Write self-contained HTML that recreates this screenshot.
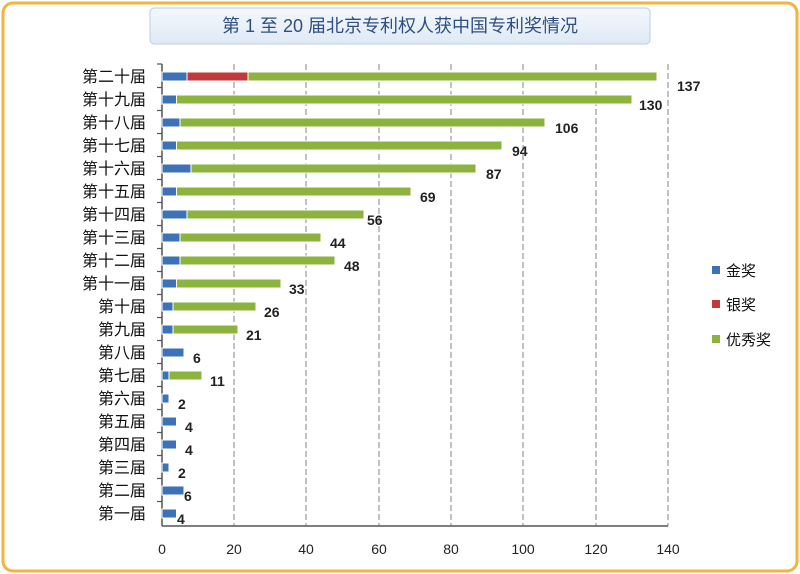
<!DOCTYPE html>
<html><head><meta charset="utf-8"><style>
body{margin:0;width:800px;height:574px;overflow:hidden;background:#fff;}
svg{display:block;font-family:"Liberation Sans","Noto Sans CJK SC",sans-serif;}
</style></head><body>
<svg width="800" height="574" viewBox="0 0 800 574">
<defs><linearGradient id="tb" x1="0" y1="0" x2="0" y2="1"><stop offset="0" stop-color="#f4f8fd"/><stop offset="1" stop-color="#dfe9f5"/></linearGradient></defs>
<rect x="3" y="3" width="794" height="568" rx="10" fill="#fff" stroke="#f2b441" stroke-width="3"/>
<rect x="150" y="8" width="500" height="36" rx="4" fill="url(#tb)" stroke="#b9cde5"/>
<text x="400" y="32" text-anchor="middle" font-size="18" fill="#2f4f7f">第 1 至 20 届北京专利权人获中国专利奖情况</text>
<g stroke="#999" stroke-width="1.2" stroke-dasharray="6,3">
<line x1="234" y1="64" x2="234" y2="526"/><line x1="306" y1="64" x2="306" y2="526"/><line x1="379" y1="64" x2="379" y2="526"/><line x1="451" y1="64" x2="451" y2="526"/><line x1="523" y1="64" x2="523" y2="526"/><line x1="596" y1="64" x2="596" y2="526"/><line x1="668" y1="64" x2="668" y2="526"/>
</g>
<line x1="162" y1="64" x2="162" y2="526" stroke="#555" stroke-width="1.5"/>
<line x1="162" y1="526" x2="668" y2="526" stroke="#555" stroke-width="1.5"/>
<g stroke="#555" stroke-width="1.2">
<line x1="157" y1="64" x2="162" y2="64"/><line x1="157" y1="87.5" x2="162" y2="87.5"/><line x1="157" y1="110.5" x2="162" y2="110.5"/><line x1="157" y1="133.5" x2="162" y2="133.5"/><line x1="157" y1="156.5" x2="162" y2="156.5"/><line x1="157" y1="179.5" x2="162" y2="179.5"/><line x1="157" y1="202.5" x2="162" y2="202.5"/><line x1="157" y1="225.5" x2="162" y2="225.5"/><line x1="157" y1="248.5" x2="162" y2="248.5"/><line x1="157" y1="271.5" x2="162" y2="271.5"/><line x1="157" y1="294.5" x2="162" y2="294.5"/><line x1="157" y1="317.5" x2="162" y2="317.5"/><line x1="157" y1="340.5" x2="162" y2="340.5"/><line x1="157" y1="363.5" x2="162" y2="363.5"/><line x1="157" y1="386.5" x2="162" y2="386.5"/><line x1="157" y1="409.5" x2="162" y2="409.5"/><line x1="157" y1="432.5" x2="162" y2="432.5"/><line x1="157" y1="455.5" x2="162" y2="455.5"/><line x1="157" y1="478.5" x2="162" y2="478.5"/><line x1="157" y1="501.5" x2="162" y2="501.5"/>
</g>
<g font-size="14" fill="#222" text-anchor="middle">
<text x="162" y="554">0</text><text x="234" y="554">20</text><text x="306" y="554">40</text><text x="379" y="554">60</text><text x="451" y="554">80</text><text x="523" y="554">100</text><text x="596" y="554">120</text><text x="668" y="554">140</text>
</g>
<g font-size="16" fill="#111" text-anchor="end">
<text x="146" y="82">第二十届</text><text x="146" y="105">第十九届</text><text x="146" y="128">第十八届</text><text x="146" y="151">第十七届</text><text x="146" y="174">第十六届</text><text x="146" y="197">第十五届</text><text x="146" y="220">第十四届</text><text x="146" y="243">第十三届</text><text x="146" y="266">第十二届</text><text x="146" y="289">第十一届</text><text x="146" y="312">第十届</text><text x="146" y="335">第九届</text><text x="146" y="358">第八届</text><text x="146" y="381">第七届</text><text x="146" y="404">第六届</text><text x="146" y="427">第五届</text><text x="146" y="450">第四届</text><text x="146" y="473">第三届</text><text x="146" y="496">第二届</text><text x="146" y="519">第一届</text>
</g>
<g stroke="#fff" stroke-width="1">
<rect x="162" y="72" width="495" height="9" fill="#8db33f"/><rect x="162" y="72" width="86" height="9" fill="#c0393b"/><rect x="162" y="72" width="25" height="9" fill="#3e72b8"/>
<rect x="162" y="95" width="470" height="9" fill="#8db33f"/><rect x="162" y="95" width="14.5" height="9" fill="#3e72b8"/>
<rect x="162" y="118" width="383" height="9" fill="#8db33f"/><rect x="162" y="118" width="18" height="9" fill="#3e72b8"/>
<rect x="162" y="141" width="340" height="9" fill="#8db33f"/><rect x="162" y="141" width="14.5" height="9" fill="#3e72b8"/>
<rect x="162" y="164" width="314" height="9" fill="#8db33f"/><rect x="162" y="164" width="29" height="9" fill="#3e72b8"/>
<rect x="162" y="187" width="249" height="9" fill="#8db33f"/><rect x="162" y="187" width="14.5" height="9" fill="#3e72b8"/>
<rect x="162" y="210" width="202" height="9" fill="#8db33f"/><rect x="162" y="210" width="25" height="9" fill="#3e72b8"/>
<rect x="162" y="233" width="159" height="9" fill="#8db33f"/><rect x="162" y="233" width="18" height="9" fill="#3e72b8"/>
<rect x="162" y="256" width="173" height="9" fill="#8db33f"/><rect x="162" y="256" width="18" height="9" fill="#3e72b8"/>
<rect x="162" y="279" width="119" height="9" fill="#8db33f"/><rect x="162" y="279" width="14.5" height="9" fill="#3e72b8"/>
<rect x="162" y="302" width="94" height="9" fill="#8db33f"/><rect x="162" y="302" width="11" height="9" fill="#3e72b8"/>
<rect x="162" y="325" width="76" height="9" fill="#8db33f"/><rect x="162" y="325" width="11" height="9" fill="#3e72b8"/>
<rect x="162" y="348" width="22" height="9" fill="#3e72b8"/>
<rect x="162" y="371" width="40" height="9" fill="#8db33f"/><rect x="162" y="371" width="7" height="9" fill="#3e72b8"/>
<rect x="162" y="394" width="7" height="9" fill="#3e72b8"/>
<rect x="162" y="417" width="14.5" height="9" fill="#3e72b8"/>
<rect x="162" y="440" width="14.5" height="9" fill="#3e72b8"/>
<rect x="162" y="463" width="7" height="9" fill="#3e72b8"/>
<rect x="162" y="486" width="22" height="9" fill="#3e72b8"/>
<rect x="162" y="509" width="14.5" height="9" fill="#3e72b8"/>
</g>
<g font-size="14" font-weight="bold" fill="#222">
<text x="677" y="91">137</text><text x="639" y="110">130</text><text x="555" y="133">106</text><text x="512" y="156">94</text><text x="486" y="179">87</text><text x="420" y="202">69</text><text x="367" y="225">56</text><text x="330" y="248">44</text><text x="344" y="271">48</text><text x="289" y="294">33</text><text x="264" y="317">26</text><text x="246" y="340">21</text><text x="193" y="363">6</text><text x="210" y="386">11</text><text x="178" y="409">2</text><text x="185" y="432">4</text><text x="185" y="455">4</text><text x="178" y="478">2</text><text x="184" y="501">6</text><text x="177" y="524">4</text>
</g>
<rect x="712" y="266" width="8" height="8" fill="#3e72b8"/><rect x="712" y="300" width="8" height="8" fill="#c0393b"/><rect x="712" y="335" width="8" height="8" fill="#8db33f"/>
<g font-size="15" fill="#111"><text x="726" y="276">金奖</text><text x="726" y="310">银奖</text><text x="726" y="345">优秀奖</text></g>
</svg>
</body></html>
